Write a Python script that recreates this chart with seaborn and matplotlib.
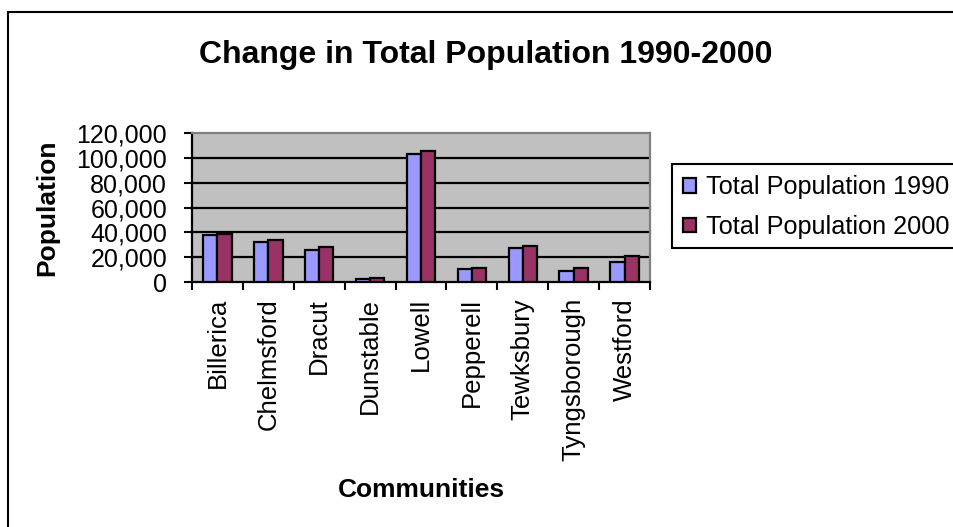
import matplotlib
matplotlib.use("Agg")
import matplotlib.pyplot as plt
import seaborn as sns
import pandas as pd
import numpy as np
from matplotlib.ticker import FuncFormatter, FixedLocator
from matplotlib.patches import Rectangle

communities = ["Billerica", "Chelmsford", "Dracut", "Dunstable", "Lowell",
               "Pepperell", "Tewksbury", "Tyngsborough", "Westford"]
pop_1990 = [37609, 32383, 25594, 2236, 103439, 10098, 27266, 8642, 16392]
pop_2000 = [38981, 33858, 28562, 2829, 105167, 11142, 28851, 11081, 20754]
series_names = ["Total Population 1990", "Total Population 2000"]
colors = ["#9999FF", "#993366"]
y_ticks = [0, 20000, 40000, 60000, 80000, 100000, 120000]

df = pd.DataFrame({
    "Community": communities * 2,
    "Series": [series_names[0]] * len(communities) + [series_names[1]] * len(communities),
    "Population": pop_1990 + pop_2000,
})

sns.set_theme(style="white")
plt.rcParams["font.family"] = ["Liberation Sans", "DejaVu Sans"]
plt.rcParams["text.color"] = "black"
plt.rcParams["axes.labelcolor"] = "black"
plt.rcParams["xtick.color"] = "black"
plt.rcParams["ytick.color"] = "black"

fig = plt.figure(figsize=(9.54, 5.27), dpi=100)
ax = fig.add_axes([192/954, 1-282/527, 458/954, 149/527])
ax.set_facecolor("#C0C0C0")

sns.barplot(data=df, x="Community", y="Population", hue="Series",
            palette=colors, width=0.56, edgecolor="black", linewidth=1.6,
            saturation=1, ax=ax, zorder=3)

ax.set_ylim(0, 120000)
ax.set_xlim(-0.5, len(communities) - 0.5)
ax.yaxis.set_major_locator(FixedLocator(y_ticks))
ax.yaxis.set_major_formatter(FuncFormatter(lambda v, p: f"{int(v):,}"))
for yv in y_ticks[1:-1]:
    ax.axhline(yv, color="black", linewidth=1.6, zorder=1)

ax.tick_params(axis="y", which="major", direction="out", length=6, width=1.5,
               color="black", labelsize=18, pad=12, left=True)
ax.set_xticks(range(len(communities)))
ax.set_xticklabels(communities, rotation=90, fontsize=18.5)
ax.tick_params(axis="x", which="major", length=0, pad=11.5)
ax.set_xticks(np.arange(-0.5, len(communities), 1.0), minor=True)
ax.tick_params(axis="x", which="minor", direction="out", length=6, width=1.5,
               color="black", bottom=True)

for s in ["left", "bottom"]:
    ax.spines[s].set_color("black")
    ax.spines[s].set_linewidth(1.6)
for s in ["top", "right"]:
    ax.spines[s].set_color("#808080")
    ax.spines[s].set_linewidth(1.6)

ax.set_xlabel("Communities", fontsize=19, fontweight="bold")
ax.xaxis.set_label_coords(0.5, (282-490)/149)
ax.xaxis.label.set_verticalalignment("center")
ax.set_ylabel("Population", fontsize=19, fontweight="bold")
ax.yaxis.set_label_coords((47-192)/458, 0.5)
ax.yaxis.label.set_verticalalignment("center")
ax.yaxis.label.set_horizontalalignment("center")

fig.text(486/954, 1-55/527, "Change in Total Population 1990-2000",
         ha="center", va="center", fontsize=23, fontweight="bold")

# legend box running off the right edge, as in the reference (drawn beneath the axes layer)
fig.patches.append(Rectangle((672/954, 1-248/527), 300/954, 84/527,
                             transform=fig.transFigure, facecolor="white",
                             edgecolor="black", linewidth=1.5, zorder=-1))
leg = ax.legend(loc="upper left", bbox_to_anchor=(672/954, 1-164/527),
                bbox_transform=fig.transFigure, fontsize=18.2, frameon=False,
                handlelength=0.48, handleheight=0.52, handletextpad=0.42,
                borderpad=0.45, labelspacing=0.62, borderaxespad=0)

# chart frame: top and left edges visible, right and bottom run off the image
fig.patches.append(Rectangle((8/954, -20/527), 980/954, (527-12+20)/527,
                             transform=fig.transFigure, fill=False,
                             edgecolor="black", linewidth=1.5, zorder=-2))

fig.savefig("out.png", dpi=100)
